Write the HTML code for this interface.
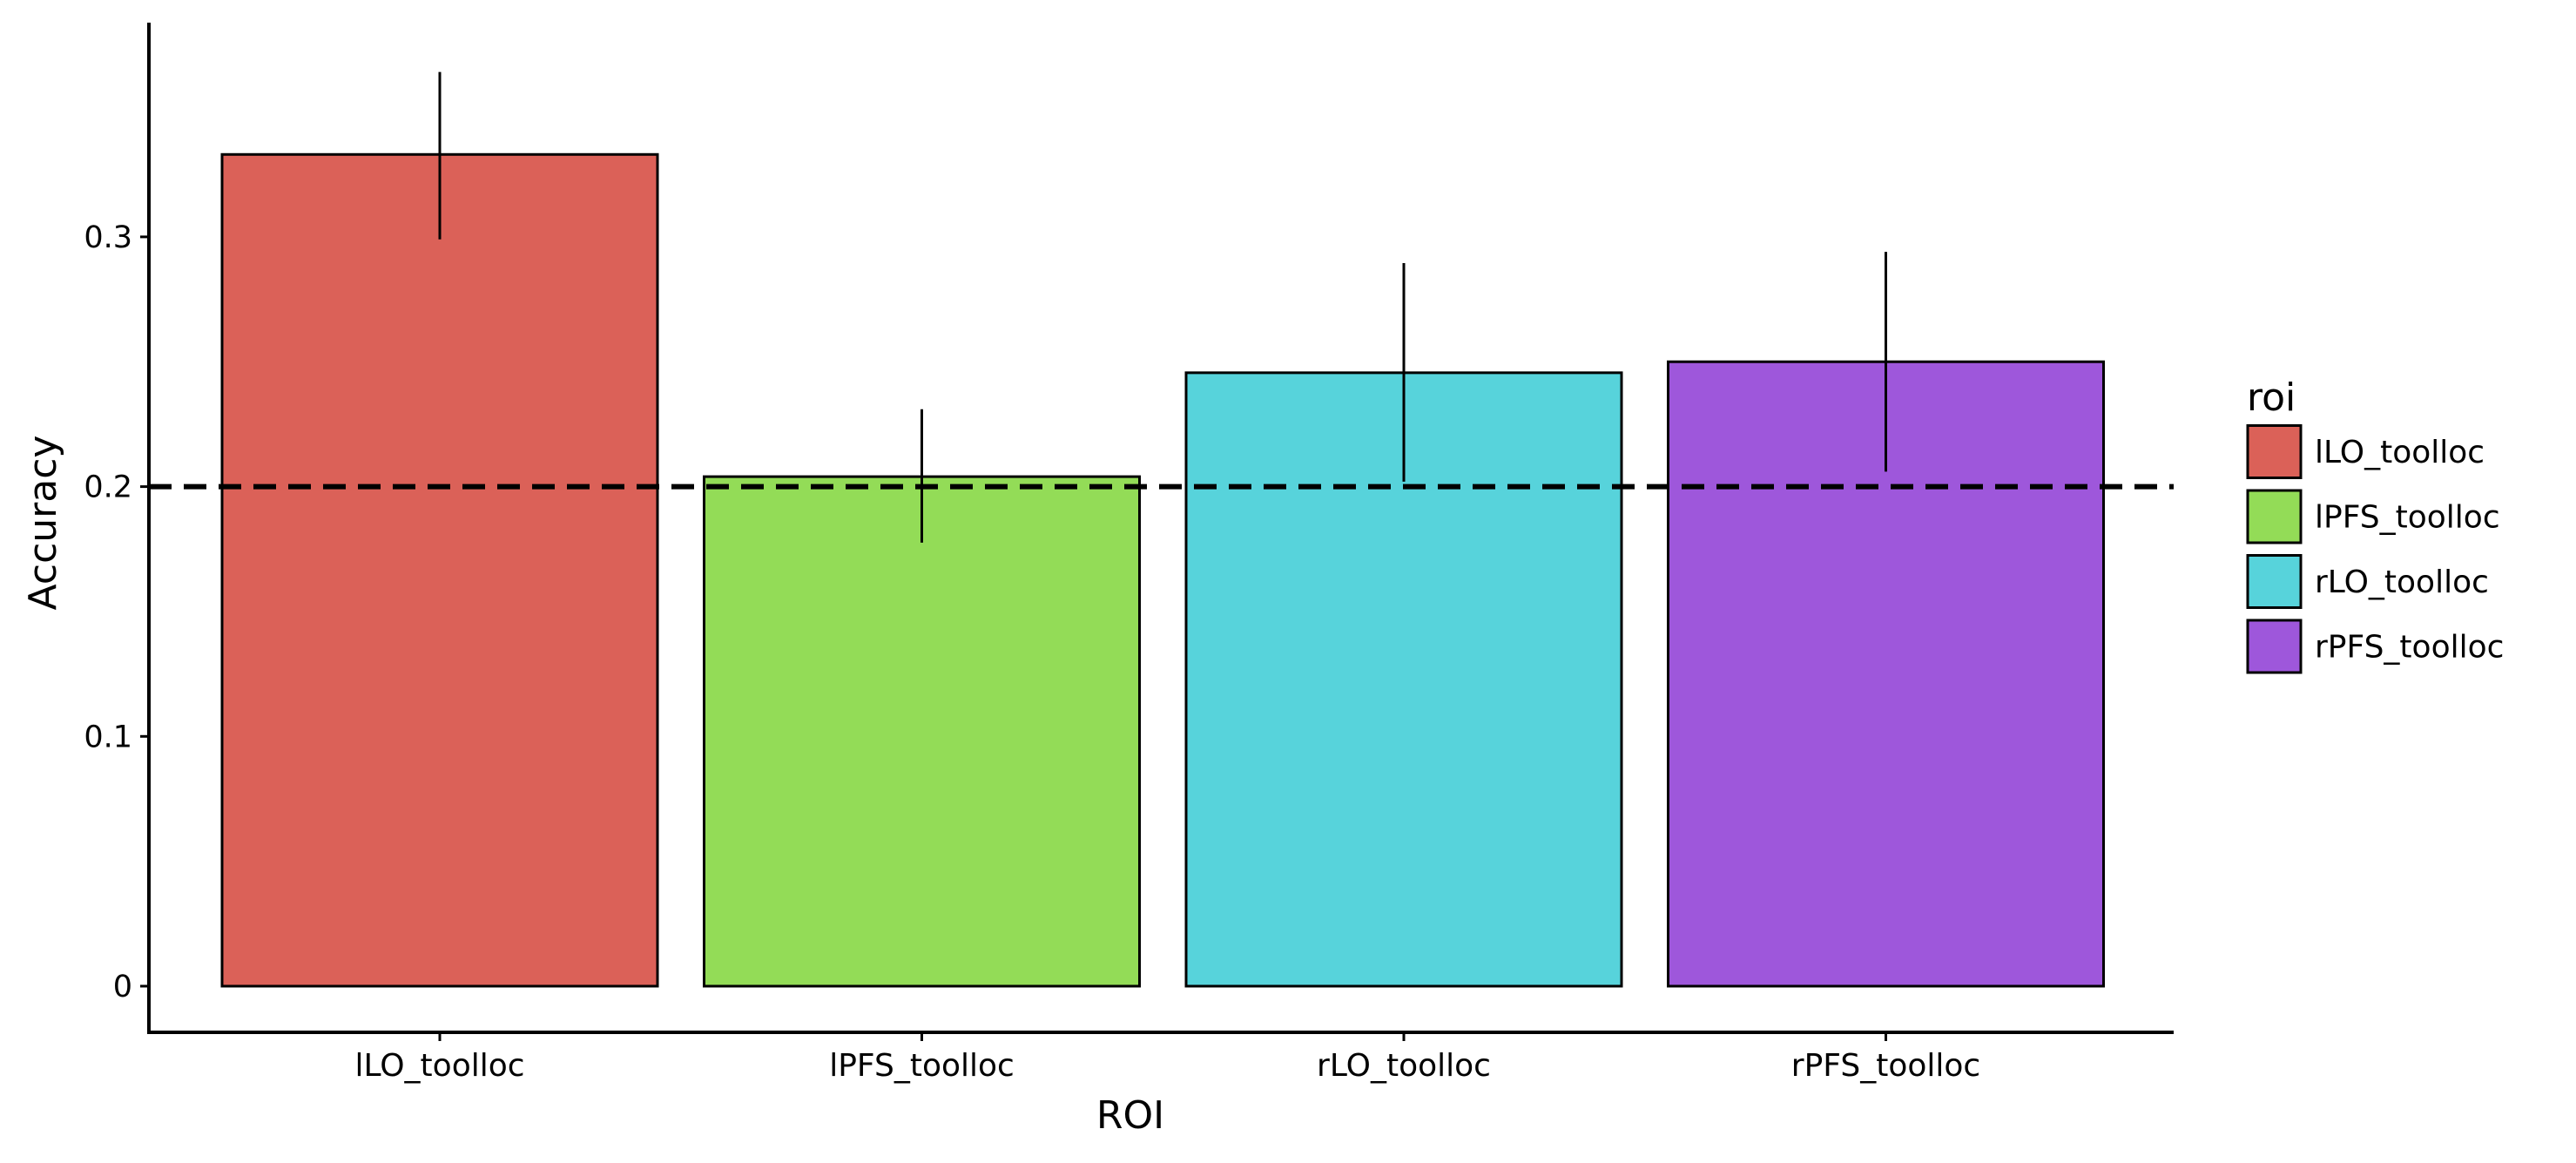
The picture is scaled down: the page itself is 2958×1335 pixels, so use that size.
<!DOCTYPE html>
<html><head><meta charset="utf-8"><style>
html,body{margin:0;padding:0;background:#fff;}
svg{display:block;font-family:"DejaVu Sans","Liberation Sans",sans-serif;}
</style></head><body>
<svg id="chart" width="2958" height="1335" viewBox="0 0 2958 1335" xmlns="http://www.w3.org/2000/svg">
<g id="bars"></g>
<g id="axes"></g>
<g id="legend"></g>
</svg>
<script>
const categories = ["lLO_toolloc","lPFS_toolloc","rLO_toolloc","rPFS_toolloc"];
const accuracy = [0.333, 0.204, 0.2456, 0.250];
const errLow = [0.299, 0.1776, 0.202, 0.206];
const errHigh = [0.366, 0.231, 0.2895, 0.294];
const colors = ["#DB6158","#93DC57","#57D3DB","#9E57DB"];
const yTicks = [0, 0.1, 0.2, 0.3];
const yTickLabels = ["0","0.1","0.2","0.3"];
const chance = 0.2;

const NS = "http://www.w3.org/2000/svg";
const X0 = 171, X1 = 2496, YT = 26, YB = 1185;
const yZero = 1132, pxPer = 2867;
function yScale(v){ return yZero - v*pxPer; }
const step = 553.5, firstCenter = 505, barW = 500;
function xScale(i){ return firstCenter + i*step; }
function mk(tag, attrs, parent){ const e=document.createElementNS(NS,tag); for(const k in attrs) e.setAttribute(k,attrs[k]); parent.appendChild(e); return e; }

const bars = document.getElementById('bars');
const axes = document.getElementById('axes');
const legend = document.getElementById('legend');

categories.forEach((c,i)=>{
  const x = xScale(i)-barW/2, y = yScale(accuracy[i]);
  const r = mk('rect',{x:x,y:y,width:barW,height:yScale(0)-y,fill:colors[i],stroke:'#000','stroke-width':3},bars);
  
  
  const e = mk('line',{x1:xScale(i),x2:xScale(i),y1:yScale(errLow[i]),y2:yScale(errHigh[i]),stroke:'#000','stroke-width':3},bars);
  
  
});

const d = mk('line',{x1:X0,x2:X1,y1:yScale(chance),y2:yScale(chance),stroke:'#000','stroke-width':6,'stroke-dasharray':'26,14'},axes);



const ya = mk('line',{x1:X0,x2:X0,y1:YT,y2:YB+2,stroke:'#000','stroke-width':4},axes);


const xa = mk('line',{x1:X0-2,x2:X1,y1:YB,y2:YB,stroke:'#000','stroke-width':4},axes);



yTicks.forEach((v,i)=>{
  const y=yScale(v);
  const t = mk('line',{x1:X0-10,x2:X0,y1:y,y2:y,stroke:'#000','stroke-width':3},axes);
  
  
  const l = mk('text',{x:152,y:y+12,'text-anchor':'end','font-size':35,fill:'#000'},axes);
  l.textContent = yTickLabels[i];
  
  
});
categories.forEach((c,i)=>{
  const x=xScale(i);
  const t = mk('line',{x1:x,x2:x,y1:YB,y2:YB+10,stroke:'#000','stroke-width':3},axes);
  
  
  const l = mk('text',{x:x,y:1235,'text-anchor':'middle','font-size':36,fill:'#000'},axes);
  l.textContent = c;
  
  
});
const xt = mk('text',{x:1298,y:1295,'text-anchor':'middle','font-size':44,fill:'#000'},axes);
xt.textContent='ROI';


const yt = mk('text',{x:0,y:0,'text-anchor':'middle','font-size':44,fill:'#000',transform:'translate(64,600) rotate(-90)'},axes);
yt.textContent='Accuracy';



const lt = mk('text',{x:2580,y:471,'font-size':44,fill:'#000'},legend);
lt.textContent='roi';


categories.forEach((c,i)=>{
  const y=487+i*74.5;
  const g = mk('g',{},legend);
  
  
  mk('rect',{x:2581,y:y+1.5,width:61,height:60,fill:colors[i],stroke:'#000','stroke-width':3},g);
  const l = mk('text',{x:2658,y:y+44,'font-size':36,fill:'#000'},g);
  l.textContent=c;
});
</script>
</body></html>
